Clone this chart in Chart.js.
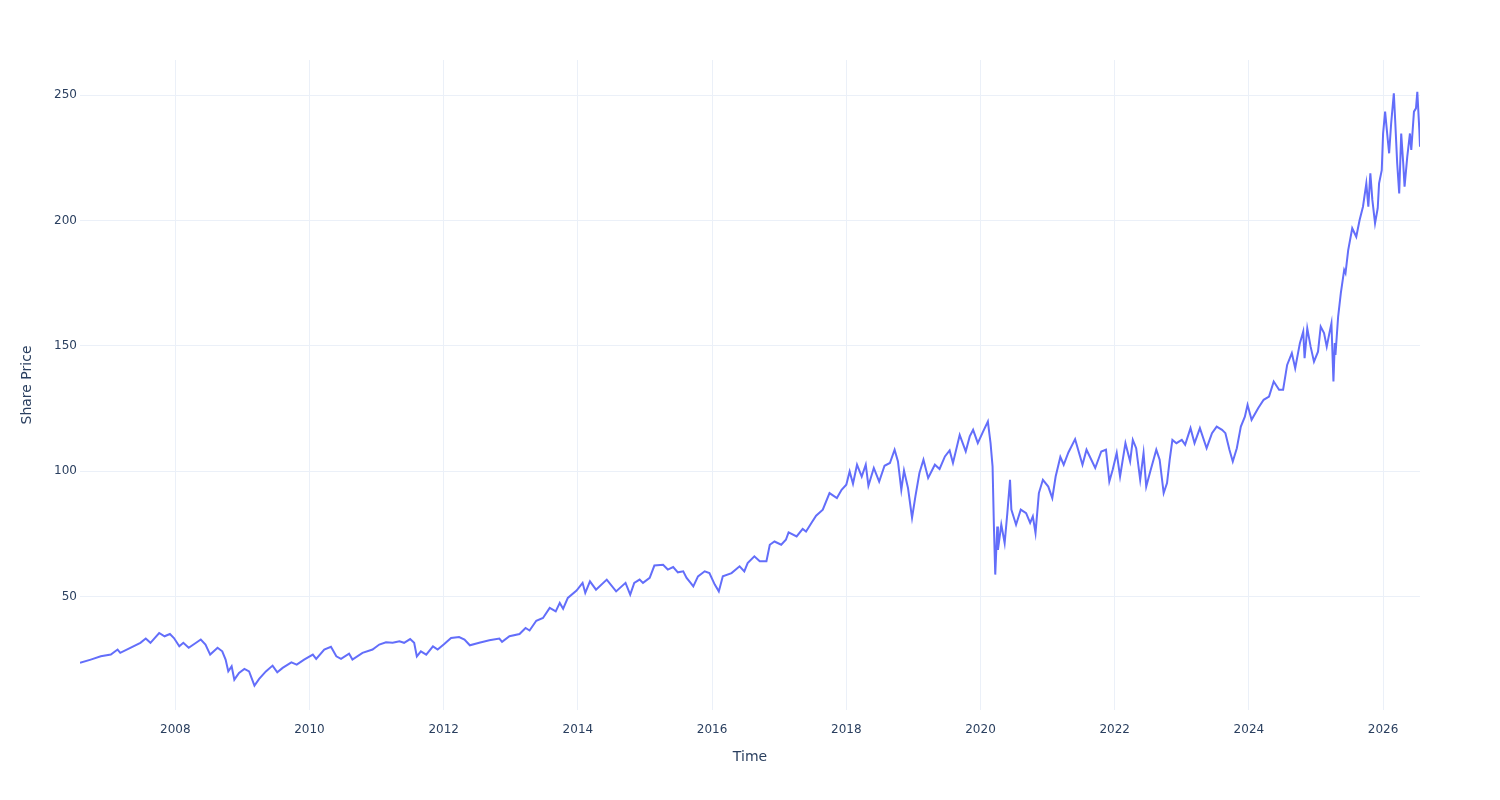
<!DOCTYPE html>
<html>
<head>
<meta charset="utf-8">
<script src="https://cdn.jsdelivr.net/npm/chart.js@4"></script>
<style>
  html, body { margin: 0; padding: 0; background: #fff; }
  #wrap { width: 1500px; height: 800px; }
</style>
</head>
<body>
<div id="wrap"><canvas id="priceChart" width="1500" height="800"></canvas></div>
<script>
// time as decimal years, price
const dates = [
  2006.58, 2006.74, 2006.89, 2007.04, 2007.14, 2007.18, 2007.33, 2007.48, 2007.56, 2007.63,
  2007.76, 2007.84, 2007.92, 2007.98, 2008.06, 2008.12, 2008.20, 2008.31, 2008.38, 2008.45,
  2008.52, 2008.63, 2008.70, 2008.75, 2008.79, 2008.84, 2008.88,
  2008.95, 2009.03, 2009.10, 2009.18, 2009.25, 2009.35, 2009.45, 2009.52, 2009.60, 2009.73,
  2009.81, 2009.92, 2010.05, 2010.10, 2010.22, 2010.32, 2010.40, 2010.47, 2010.59, 2010.64,
  2010.79, 2010.94, 2011.04, 2011.14, 2011.24, 2011.34, 2011.41, 2011.50, 2011.56, 2011.60,
  2011.66, 2011.74, 2011.84, 2011.91, 2012.00,
  2012.11, 2012.23, 2012.31, 2012.39, 2012.53, 2012.68, 2012.83, 2012.87, 2012.98, 2013.13,
  2013.22, 2013.28, 2013.38, 2013.48, 2013.58, 2013.67, 2013.73, 2013.78, 2013.85, 2013.98,
  2014.07, 2014.11, 2014.18, 2014.27,
  2014.43, 2014.57, 2014.71, 2014.78, 2014.84,
  2014.92, 2014.97, 2015.07, 2015.14, 2015.27, 2015.34, 2015.42, 2015.49, 2015.57, 2015.62,
  2015.68, 2015.72, 2015.79, 2015.89, 2015.96, 2016.04, 2016.10, 2016.16, 2016.29, 2016.41,
  2016.48, 2016.53, 2016.63, 2016.71, 2016.81, 2016.86, 2016.93, 2017.03, 2017.10, 2017.14,
  2017.26, 2017.35, 2017.40, 2017.48, 2017.55, 2017.65, 2017.75, 2017.86, 2017.93, 2018.00,
  2018.05, 2018.10, 2018.16, 2018.23, 2018.29, 2018.33, 2018.41, 2018.49, 2018.57, 2018.65,
  2018.72, 2018.77, 2018.82, 2018.86, 2018.92, 2018.98, 2019.03, 2019.09, 2019.15, 2019.22,
  2019.32, 2019.39, 2019.47, 2019.54, 2019.59, 2019.69, 2019.78,
  2019.84, 2019.89, 2019.96, 2020.04, 2020.11, 2020.15, 2020.18, 2020.20, 2020.22, 2020.25,
  2020.26, 2020.31, 2020.36, 2020.40, 2020.44, 2020.46, 2020.53, 2020.60, 2020.68, 2020.74,
  2020.78, 2020.82, 2020.87, 2020.93, 2021.01, 2021.07, 2021.12, 2021.19, 2021.24, 2021.31,
  2021.41, 2021.52, 2021.58, 2021.71, 2021.80, 2021.87, 2021.92, 2021.97, 2022.03, 2022.08,
  2022.16, 2022.23, 2022.27, 2022.32, 2022.38, 2022.43, 2022.47, 2022.53, 2022.62, 2022.67,
  2022.73, 2022.78,
  2022.82, 2022.86, 2022.92, 2023.00, 2023.05, 2023.13, 2023.19, 2023.27, 2023.37, 2023.45,
  2023.52, 2023.60, 2023.65, 2023.71, 2023.76, 2023.82, 2023.88, 2023.94, 2023.98, 2024.04,
  2024.14, 2024.22, 2024.30,
  2024.37, 2024.45, 2024.51, 2024.57, 2024.64, 2024.69, 2024.76, 2024.81, 2024.83, 2024.87,
  2024.92, 2024.97, 2025.03, 2025.07, 2025.12, 2025.16, 2025.20, 2025.23, 2025.26, 2025.28,
  2025.29, 2025.33, 2025.37, 2025.42, 2025.44, 2025.48, 2025.54, 2025.60, 2025.65, 2025.70,
  2025.75, 2025.78, 2025.81, 2025.84, 2025.88, 2025.92, 2025.94, 2025.98, 2026.00, 2026.03,
  2026.07, 2026.09, 2026.12, 2026.16, 2026.18, 2026.21, 2026.24, 2026.27, 2026.30, 2026.32,
  2026.36, 2026.40, 2026.42, 2026.46, 2026.49, 2026.51, 2026.54, 2026.55
];

const prices = [
  23.6, 24.9, 26.2, 26.9, 28.9, 27.6, 29.6, 31.6, 33.3, 31.6,
  35.5, 34.2, 35.1, 33.5, 30.2, 31.6, 29.6, 31.6, 32.9, 30.9,
  26.9, 29.6, 28.2, 24.9, 20.2, 22.2, 16.9,
  19.6, 21.2, 20.2, 14.5, 17.2, 20.2, 22.5, 19.8, 21.6, 23.8,
  22.9, 24.9, 26.9, 25.2, 28.9, 30.0, 26.2, 25.2, 27.3, 24.9,
  27.6, 28.9, 30.9, 31.8, 31.6, 32.2, 31.6, 33.1, 31.6, 26.2,
  28.2, 26.9, 30.2, 28.9, 30.9,
  33.5, 33.9, 32.9, 30.6, 31.6, 32.6, 33.3, 32.0, 34.2, 35.1,
  37.5, 36.5, 40.4, 41.5, 45.5, 44.1, 47.5, 45.2, 49.5, 52.4,
  55.5, 51.5, 56.1, 52.8,
  56.8, 52.1, 55.5, 50.8, 55.5,
  56.8, 55.5, 57.5, 62.4, 62.7, 60.8, 61.8, 59.7, 60.1, 57.5,
  55.5, 54.1, 58.1, 60.1, 59.4, 54.8, 52.1, 58.1, 59.4, 62.1,
  60.1, 63.4, 66.1, 64.1, 64.1, 70.7, 72.0, 70.7, 72.7, 75.6,
  74.0, 77.0, 76.0, 79.4, 82.3, 84.7, 91.3, 89.3, 92.6, 94.6,
  99.9, 95.0, 102.6, 97.9, 102.6, 94.2, 101.3, 95.9, 102.2, 103.3,
  108.6, 103.9, 92.6, 100.3, 93.3, 81.4, 90.0, 99.3, 104.6, 97.3,
  102.6, 100.9, 105.9, 108.3, 103.3, 114.5, 107.9,
  113.9, 116.5, 111.2, 115.9, 119.8, 111.2, 101.9, 78.0, 58.8, 78.0,
  68.7, 78.7, 71.4, 83.3, 96.6, 84.7, 78.7, 84.7, 83.3, 79.4,
  82.0, 75.4, 91.3, 96.6, 93.9, 89.3, 97.9, 105.7, 102.6, 107.5,
  112.8, 102.6, 108.6, 101.3, 107.9, 108.6, 95.9, 100.6, 107.3, 97.9,
  111.2, 103.9, 112.5, 109.2, 96.6, 107.3, 93.9, 99.9, 108.6, 104.6,
  91.3, 95.3,
  104.6, 112.5, 111.2, 112.5, 110.6, 117.2, 111.2, 117.2, 109.2, 115.2,
  117.8, 116.5, 115.2, 108.6, 103.9, 109.2, 117.8, 121.8, 126.5, 120.5,
  125.2, 128.5, 129.8,
  135.8, 132.5, 132.5, 142.4, 147.1, 141.1, 151.1, 155.7, 145.1, 157.0,
  149.7, 143.7, 147.7, 157.7, 155.1, 149.7, 155.1, 159.0, 135.8, 151.1,
  146.4, 161.7, 171.0, 180.3, 179.0, 188.2, 196.9, 193.5, 200.2, 205.5,
  214.8, 205.5, 218.8, 208.2, 198.9, 204.9, 214.8, 220.1, 234.7, 243.4,
  232.1, 226.8, 238.7, 250.7, 240.0, 222.8, 210.8, 234.7, 222.8, 213.5,
  225.4, 234.7, 228.1, 243.4, 244.7, 251.3, 236.1, 229.4
];

const yearTicks = [2008, 2010, 2012, 2014, 2016, 2018, 2020, 2022, 2024, 2026];
const priceTicks = [50, 100, 150, 200, 250];

const textColor = "#2a3f5f";
const gridColor = "#ebf0f8";
const fontFamily = "'DejaVu Sans', Verdana, sans-serif";

const points = dates.map((d, i) => ({ x: d, y: prices[i] }));

const ctx = document.getElementById("priceChart").getContext("2d");

const priceChart = new Chart(ctx, {
  type: "line",
  data: {
    datasets: [{
      label: "Share Price",
      data: points,
      borderColor: "#636efa",
      borderWidth: 2,
      pointRadius: 0,
      tension: 0,
      fill: false
    }]
  },
  options: {
    responsive: false,
    animation: false,
    devicePixelRatio: 1,
    layout: { padding: { top: 60, right: 80, bottom: 0, left: 0 } },
    plugins: {
      legend: { display: false },
      tooltip: { enabled: false }
    },
    scales: {
      x: {
        type: "linear",
        min: dates[0],
        max: dates[dates.length - 1],
        afterBuildTicks: (scale) => { scale.ticks = yearTicks.map(v => ({ value: v })); },
        afterFit: (scale) => { scale.height = 90; },
        border: { display: false },
        grid: { color: gridColor, drawTicks: false, lineWidth: 1 },
        ticks: {
          color: textColor,
          font: { family: fontFamily, size: 12 },
          padding: 13,
          maxRotation: 0,
          callback: (v) => String(v)
        },
        title: {
          display: true,
          text: "Time",
          color: textColor,
          font: { family: fontFamily, size: 14 },
          padding: { top: 0, bottom: 34 }
        }
      },
      y: {
        type: "linear",
        min: 4.8,
        max: 264,
        afterBuildTicks: (scale) => { scale.ticks = priceTicks.map(v => ({ value: v })); },
        afterFit: (scale) => { scale.width = 80; },
        border: { display: false },
        grid: { color: gridColor, drawTicks: false, lineWidth: 1 },
        ticks: {
          color: textColor,
          font: { family: fontFamily, size: 12 },
          padding: 3,
          callback: (v) => String(v)
        },
        title: {
          display: true,
          text: "Share Price",
          color: textColor,
          font: { family: fontFamily, size: 14 },
          padding: { top: 19, bottom: 0 }
        }
      }
    }
  }
});
</script>
</body>
</html>
